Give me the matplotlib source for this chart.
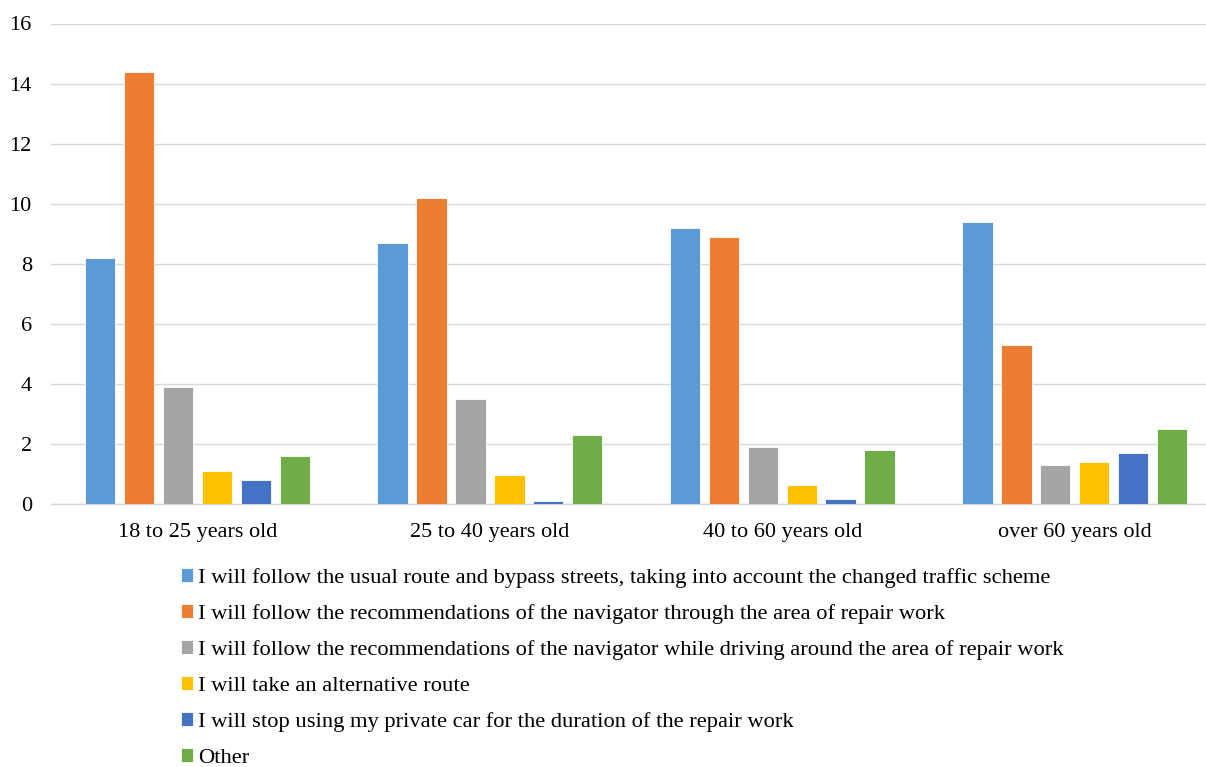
import matplotlib
matplotlib.use("Agg")
import matplotlib.pyplot as plt
import numpy as np

categories = ["18 to 25 years old", "25 to 40 years old", "40 to 60 years old", "over 60 years old"]
series_names = [
    "I will follow the usual route and bypass streets, taking into account the changed traffic scheme",
    "I will follow the recommendations of the navigator through the area of repair work",
    "I will follow the recommendations of the navigator while driving around the area of repair work",
    "I will take an alternative route",
    "I will stop using my private car for the duration of the repair work",
    "Other",
]
usual_route = [8.2, 8.7, 9.2, 9.4]
navigator_through = [14.4, 10.2, 8.9, 5.3]
navigator_around = [3.9, 3.5, 1.9, 1.3]
alternative_route = [1.1, 0.95, 0.63, 1.4]
stop_using_car = [0.8, 0.1, 0.15, 1.7]
other = [1.6, 2.3, 1.8, 2.5]
series_values = [usual_route, navigator_through, navigator_around,
                 alternative_route, stop_using_car, other]
colors = ["#5B9BD5", "#ED7D31", "#A5A5A5", "#FFC000", "#4472C4", "#70AD47"]
yticks = [0, 2, 4, 6, 8, 10, 12, 14, 16]

plt.rcParams['font.family'] = ['Liberation Serif', 'DejaVu Serif']

W, H = 1206, 767
fig = plt.figure(figsize=(W / 100, H / 100), dpi=100)
left = 51.3 / W
bottom = (H - 504) / H
top = (H - 23.5) / H
width = 292.4 * 4 / W
ax = fig.add_axes([left, bottom, width, top - bottom])

x = np.arange(len(categories))
pitch = 0.133
bw = 0.104
handles = []
for i, (vals, c, name) in enumerate(zip(series_values, colors, series_names)):
    offs = (i - 2.5) * pitch
    b = ax.bar(x + offs, vals, width=bw, color=c, edgecolor="white", linewidth=0.6,
               label=name, zorder=3)
    handles.append(b)

ax.set_xlim(-0.5, len(categories) - 0.5)
ax.set_ylim(0, 16)
ax.set_yticks(yticks)
ax.set_yticklabels([str(t) for t in yticks])
ax.set_xticks(x)
ax.set_xticklabels(categories)
ax.tick_params(axis="both", length=0, labelsize=16, colors="black")
ax.tick_params(axis="y", pad=14)
ax.tick_params(axis="x", pad=14)
ax.grid(axis="y", color="#D9D9D9", linewidth=1.0, zorder=0)
ax.set_axisbelow(True)
for s in ["top", "right", "left"]:
    ax.spines[s].set_visible(False)
ax.spines["bottom"].set_color("#D9D9D9")
ax.spines["bottom"].set_linewidth(1.0)

leg = fig.legend(handles=handles, labels=series_names, loc="upper left",
                 bbox_to_anchor=(181 / W, (H - 568) / H), frameon=False,
                 fontsize=16.2, handlelength=0.55, handleheight=0.55,
                 handletextpad=0.2, labelspacing=0.72, borderpad=0, borderaxespad=0)

fig.savefig("out.png", dpi=100)
